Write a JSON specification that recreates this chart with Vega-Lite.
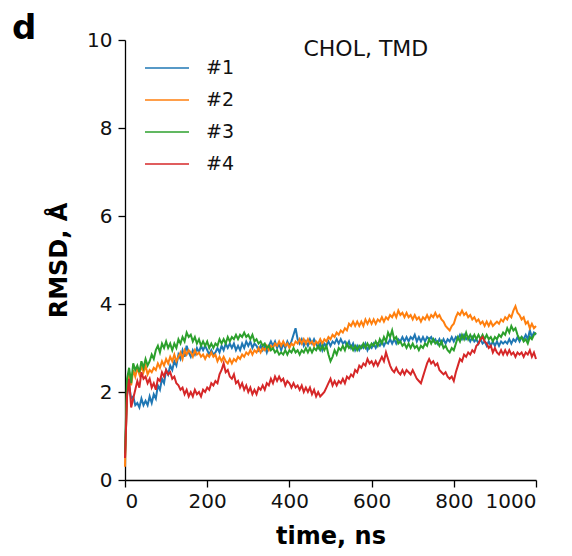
{
  "$schema": "https://vega.github.io/schema/vega-lite/v6.json",
  "autosize": {"type": "none"},
  "padding": {"left": 125, "top": 40, "right": 36, "bottom": 76},
  "width": 411,
  "height": 440,
  "background": "white",
  "config": {
    "font": "DejaVu Sans",
    "view": {"stroke": null},
    "axis": {"grid": false, "domainColor": "#000", "domainWidth": 1.3, "tickColor": "#000", "tickWidth": 1.3, "tickSize": 7, "labelFontSize": 20, "labelColor": "#111", "titleColor": "#000", "titleFontSize": 24, "titleFontWeight": "bold"}
  },
  "title": {"text": "d", "anchor": "start", "frame": "group", "dx": -113, "offset": -16, "fontSize": 34, "fontWeight": "bold", "color": "#000"},
  "datasets": {
    "rmsd": [
{"t":0,"#1":0.5,"#2":0.3,"#3":0.6,"#4":0.5},
{"t":5,"#1":1.95,"#2":2.05,"#3":2.3,"#4":1.9},
{"t":10,"#1":2.15,"#2":2.45,"#3":2.55,"#4":2.3},
{"t":15,"#1":1.85,"#2":2.15,"#3":2.2,"#4":1.65},
{"t":20,"#1":1.9,"#2":2.5,"#3":2.65,"#4":1.85},
{"t":25,"#1":1.7,"#2":2.35,"#3":2.5,"#4":2.05},
{"t":30,"#1":1.75,"#2":2.55,"#3":2.6,"#4":2.25},
{"t":35,"#1":1.65,"#2":2.4,"#3":2.45,"#4":2.1},
{"t":40,"#1":1.85,"#2":2.6,"#3":2.7,"#4":2.45},
{"t":45,"#1":1.7,"#2":2.45,"#3":2.55,"#4":2.3},
{"t":50,"#1":1.8,"#2":2.6,"#3":2.75,"#4":2.35},
{"t":55,"#1":1.7,"#2":2.4,"#3":2.6,"#4":2.2},
{"t":60,"#1":1.9,"#2":2.5,"#3":2.7,"#4":2.3},
{"t":65,"#1":1.75,"#2":2.45,"#3":2.85,"#4":2.1},
{"t":70,"#1":1.95,"#2":2.55,"#3":2.75,"#4":2.2},
{"t":75,"#1":1.85,"#2":2.5,"#3":2.95,"#4":2.05},
{"t":80,"#1":2.15,"#2":2.65,"#3":3.05,"#4":2.3},
{"t":85,"#1":2.05,"#2":2.55,"#3":2.9,"#4":2.25},
{"t":90,"#1":2.3,"#2":2.7,"#3":3.1,"#4":2.45},
{"t":95,"#1":2.2,"#2":2.6,"#3":3.0,"#4":2.35},
{"t":100,"#1":2.5,"#2":2.75,"#3":3.15,"#4":2.5},
{"t":105,"#1":2.4,"#2":2.65,"#3":3.0,"#4":2.4},
{"t":110,"#1":2.6,"#2":2.8,"#3":3.1,"#4":2.45},
{"t":115,"#1":2.5,"#2":2.7,"#3":2.95,"#4":2.3},
{"t":120,"#1":2.7,"#2":2.85,"#3":3.1,"#4":2.35},
{"t":125,"#1":2.6,"#2":2.7,"#3":3.0,"#4":2.2},
{"t":130,"#1":2.85,"#2":2.8,"#3":3.2,"#4":2.15},
{"t":135,"#1":2.75,"#2":2.9,"#3":3.1,"#4":2.05},
{"t":140,"#1":2.95,"#2":2.75,"#3":3.25,"#4":2.1},
{"t":145,"#1":2.8,"#2":2.95,"#3":3.15,"#4":1.95},
{"t":150,"#1":3.05,"#2":2.85,"#3":3.35,"#4":2.05},
{"t":155,"#1":2.9,"#2":2.95,"#3":3.25,"#4":1.9},
{"t":160,"#1":2.8,"#2":2.9,"#3":3.3,"#4":2.0},
{"t":165,"#1":2.95,"#2":2.8,"#3":3.15,"#4":1.9},
{"t":170,"#1":2.85,"#2":2.95,"#3":3.25,"#4":2.05},
{"t":175,"#1":3.0,"#2":2.85,"#3":3.1,"#4":1.95},
{"t":180,"#1":2.9,"#2":2.9,"#3":3.2,"#4":2.0},
{"t":185,"#1":3.05,"#2":2.8,"#3":3.05,"#4":1.9},
{"t":190,"#1":2.95,"#2":2.85,"#3":3.15,"#4":2.05},
{"t":195,"#1":3.05,"#2":2.75,"#3":3.05,"#4":2.0},
{"t":200,"#1":2.95,"#2":2.85,"#3":3.15,"#4":2.1},
{"t":205,"#1":2.85,"#2":2.8,"#3":3.0,"#4":2.05},
{"t":210,"#1":2.95,"#2":2.9,"#3":3.1,"#4":2.2},
{"t":215,"#1":2.85,"#2":2.8,"#3":3.0,"#4":2.15},
{"t":220,"#1":2.9,"#2":2.85,"#3":3.1,"#4":2.25},
{"t":225,"#1":3.0,"#2":2.7,"#3":3.05,"#4":2.2},
{"t":230,"#1":2.9,"#2":2.8,"#3":3.2,"#4":2.4},
{"t":235,"#1":3.05,"#2":2.7,"#3":3.1,"#4":2.5},
{"t":240,"#1":2.95,"#2":2.8,"#3":3.2,"#4":2.65},
{"t":245,"#1":3.1,"#2":2.7,"#3":3.1,"#4":2.45},
{"t":250,"#1":3.0,"#2":2.65,"#3":3.25,"#4":2.5},
{"t":255,"#1":3.1,"#2":2.75,"#3":3.15,"#4":2.35},
{"t":260,"#1":3.0,"#2":2.65,"#3":3.25,"#4":2.3},
{"t":265,"#1":3.1,"#2":2.75,"#3":3.2,"#4":2.4},
{"t":270,"#1":2.95,"#2":2.7,"#3":3.3,"#4":2.2},
{"t":275,"#1":3.05,"#2":2.8,"#3":3.2,"#4":2.25},
{"t":280,"#1":2.95,"#2":2.75,"#3":3.3,"#4":2.1},
{"t":285,"#1":3.1,"#2":2.85,"#3":3.25,"#4":2.2},
{"t":290,"#1":3.0,"#2":2.8,"#3":3.35,"#4":2.05},
{"t":295,"#1":3.15,"#2":2.9,"#3":3.25,"#4":2.15},
{"t":300,"#1":3.05,"#2":2.85,"#3":3.3,"#4":2.0},
{"t":305,"#1":3.15,"#2":2.95,"#3":3.2,"#4":2.1},
{"t":310,"#1":3.0,"#2":2.85,"#3":3.3,"#4":1.95},
{"t":315,"#1":3.1,"#2":2.95,"#3":3.15,"#4":2.05},
{"t":320,"#1":3.05,"#2":2.9,"#3":3.2,"#4":1.95},
{"t":325,"#1":2.95,"#2":3.0,"#3":3.1,"#4":2.1},
{"t":330,"#1":3.05,"#2":2.9,"#3":3.15,"#4":2.05},
{"t":335,"#1":2.95,"#2":3.0,"#3":3.05,"#4":2.15},
{"t":340,"#1":3.05,"#2":2.95,"#3":3.1,"#4":2.05},
{"t":345,"#1":2.9,"#2":3.05,"#3":3.0,"#4":2.2},
{"t":350,"#1":3.05,"#2":2.95,"#3":3.05,"#4":2.15},
{"t":355,"#1":3.15,"#2":3.05,"#3":2.95,"#4":2.3},
{"t":360,"#1":3.05,"#2":3.0,"#3":3.0,"#4":2.2},
{"t":365,"#1":3.15,"#2":3.1,"#3":2.9,"#4":2.35},
{"t":370,"#1":3.0,"#2":3.05,"#3":2.95,"#4":2.25},
{"t":375,"#1":3.1,"#2":3.15,"#3":2.85,"#4":2.35},
{"t":380,"#1":2.95,"#2":3.05,"#3":2.9,"#4":2.25},
{"t":385,"#1":3.1,"#2":3.15,"#3":2.85,"#4":2.3},
{"t":390,"#1":3.0,"#2":3.05,"#3":2.95,"#4":2.15},
{"t":395,"#1":3.15,"#2":3.1,"#3":2.85,"#4":2.25},
{"t":400,"#1":3.05,"#2":3.0,"#3":2.95,"#4":2.2},
{"t":405,"#1":3.15,"#2":3.1,"#3":2.9,"#4":2.1},
{"t":410,"#1":3.3,"#2":3.05,"#3":3.0,"#4":2.2},
{"t":415,"#1":3.45,"#2":3.15,"#3":2.9,"#4":2.1},
{"t":420,"#1":3.2,"#2":3.1,"#3":2.95,"#4":2.15},
{"t":425,"#1":3.1,"#2":3.2,"#3":2.85,"#4":2.05},
{"t":430,"#1":3.2,"#2":3.1,"#3":2.95,"#4":2.15},
{"t":435,"#1":3.05,"#2":3.2,"#3":2.9,"#4":2.0},
{"t":440,"#1":3.15,"#2":3.1,"#3":3.0,"#4":2.1},
{"t":445,"#1":3.05,"#2":3.2,"#3":2.9,"#4":2.0},
{"t":450,"#1":3.2,"#2":3.1,"#3":3.0,"#4":2.1},
{"t":455,"#1":3.1,"#2":3.15,"#3":2.9,"#4":1.95},
{"t":460,"#1":3.2,"#2":3.05,"#3":3.0,"#4":2.05},
{"t":465,"#1":3.1,"#2":3.15,"#3":2.95,"#4":1.9},
{"t":470,"#1":3.0,"#2":3.1,"#3":3.05,"#4":2.0},
{"t":475,"#1":3.1,"#2":3.2,"#3":2.95,"#4":1.9},
{"t":480,"#1":2.95,"#2":3.1,"#3":3.05,"#4":1.95},
{"t":485,"#1":3.1,"#2":3.2,"#3":2.95,"#4":2.0},
{"t":490,"#1":3.05,"#2":3.15,"#3":3.05,"#4":2.1},
{"t":495,"#1":3.15,"#2":3.25,"#3":2.85,"#4":2.2},
{"t":500,"#1":3.05,"#2":3.2,"#3":2.7,"#4":2.3},
{"t":505,"#1":3.15,"#2":3.3,"#3":2.8,"#4":2.15},
{"t":510,"#1":3.1,"#2":3.25,"#3":2.95,"#4":2.25},
{"t":515,"#1":3.2,"#2":3.35,"#3":2.85,"#4":2.15},
{"t":520,"#1":3.1,"#2":3.3,"#3":3.0,"#4":2.25},
{"t":525,"#1":3.2,"#2":3.4,"#3":2.95,"#4":2.2},
{"t":530,"#1":3.1,"#2":3.35,"#3":3.05,"#4":2.3},
{"t":535,"#1":3.15,"#2":3.45,"#3":2.95,"#4":2.2},
{"t":540,"#1":3.05,"#2":3.4,"#3":3.1,"#4":2.35},
{"t":545,"#1":3.15,"#2":3.55,"#3":3.0,"#4":2.3},
{"t":550,"#1":3.0,"#2":3.5,"#3":3.05,"#4":2.4},
{"t":555,"#1":3.1,"#2":3.6,"#3":2.95,"#4":2.35},
{"t":560,"#1":2.95,"#2":3.5,"#3":3.05,"#4":2.5},
{"t":565,"#1":3.05,"#2":3.6,"#3":2.95,"#4":2.45},
{"t":570,"#1":2.95,"#2":3.5,"#3":3.05,"#4":2.6},
{"t":575,"#1":3.05,"#2":3.6,"#3":3.0,"#4":2.55},
{"t":580,"#1":3.0,"#2":3.5,"#3":3.1,"#4":2.65},
{"t":585,"#1":3.1,"#2":3.65,"#3":3.0,"#4":2.6},
{"t":590,"#1":2.95,"#2":3.55,"#3":3.1,"#4":2.75},
{"t":595,"#1":3.05,"#2":3.65,"#3":3.0,"#4":2.65},
{"t":600,"#1":3.0,"#2":3.55,"#3":3.1,"#4":2.7},
{"t":605,"#1":3.1,"#2":3.65,"#3":3.05,"#4":2.6},
{"t":610,"#1":3.0,"#2":3.55,"#3":3.15,"#4":2.7},
{"t":615,"#1":3.1,"#2":3.65,"#3":3.05,"#4":2.6},
{"t":620,"#1":3.05,"#2":3.6,"#3":3.2,"#4":2.7},
{"t":625,"#1":3.15,"#2":3.7,"#3":3.1,"#4":2.8},
{"t":630,"#1":3.05,"#2":3.6,"#3":3.25,"#4":2.7},
{"t":635,"#1":3.15,"#2":3.7,"#3":3.15,"#4":2.9},
{"t":640,"#1":3.1,"#2":3.65,"#3":3.35,"#4":2.75},
{"t":645,"#1":3.2,"#2":3.75,"#3":3.25,"#4":2.6},
{"t":650,"#1":3.1,"#2":3.7,"#3":3.4,"#4":2.5},
{"t":655,"#1":3.2,"#2":3.8,"#3":3.2,"#4":2.45},
{"t":660,"#1":3.1,"#2":3.7,"#3":3.25,"#4":2.55},
{"t":665,"#1":3.2,"#2":3.85,"#3":3.1,"#4":2.45},
{"t":670,"#1":3.15,"#2":3.75,"#3":3.15,"#4":2.4},
{"t":675,"#1":3.25,"#2":3.8,"#3":3.05,"#4":2.5},
{"t":680,"#1":3.15,"#2":3.7,"#3":3.1,"#4":2.4},
{"t":685,"#1":3.25,"#2":3.8,"#3":3.0,"#4":2.5},
{"t":690,"#1":3.15,"#2":3.7,"#3":3.1,"#4":2.45},
{"t":695,"#1":3.25,"#2":3.75,"#3":3.0,"#4":2.4},
{"t":700,"#1":3.2,"#2":3.65,"#3":3.1,"#4":2.5},
{"t":705,"#1":3.3,"#2":3.75,"#3":3.0,"#4":2.4},
{"t":710,"#1":3.15,"#2":3.65,"#3":3.05,"#4":2.3},
{"t":715,"#1":3.25,"#2":3.7,"#3":2.95,"#4":2.25},
{"t":720,"#1":3.15,"#2":3.6,"#3":3.05,"#4":2.2},
{"t":725,"#1":3.25,"#2":3.7,"#3":3.0,"#4":2.35},
{"t":730,"#1":3.15,"#2":3.65,"#3":3.1,"#4":2.5},
{"t":735,"#1":3.25,"#2":3.75,"#3":3.05,"#4":2.65},
{"t":740,"#1":3.2,"#2":3.65,"#3":3.2,"#4":2.75},
{"t":745,"#1":3.25,"#2":3.75,"#3":3.1,"#4":2.65},
{"t":750,"#1":3.15,"#2":3.7,"#3":3.2,"#4":2.7},
{"t":755,"#1":3.2,"#2":3.8,"#3":3.1,"#4":2.6},
{"t":760,"#1":3.1,"#2":3.7,"#3":3.15,"#4":2.65},
{"t":765,"#1":3.2,"#2":3.75,"#3":3.05,"#4":2.5},
{"t":770,"#1":3.1,"#2":3.65,"#3":3.15,"#4":2.45},
{"t":775,"#1":3.2,"#2":3.6,"#3":3.0,"#4":2.4},
{"t":780,"#1":3.1,"#2":3.5,"#3":3.05,"#4":2.45},
{"t":785,"#1":3.2,"#2":3.45,"#3":2.95,"#4":2.35},
{"t":790,"#1":3.15,"#2":3.4,"#3":2.9,"#4":2.3},
{"t":795,"#1":3.25,"#2":3.5,"#3":3.0,"#4":2.35},
{"t":800,"#1":3.15,"#2":3.55,"#3":2.95,"#4":2.25},
{"t":805,"#1":3.25,"#2":3.7,"#3":3.1,"#4":2.45},
{"t":810,"#1":3.2,"#2":3.8,"#3":3.25,"#4":2.6},
{"t":815,"#1":3.3,"#2":3.75,"#3":3.15,"#4":2.75},
{"t":820,"#1":3.2,"#2":3.85,"#3":3.3,"#4":2.7},
{"t":825,"#1":3.3,"#2":3.75,"#3":3.2,"#4":2.85},
{"t":830,"#1":3.2,"#2":3.8,"#3":3.35,"#4":2.8},
{"t":835,"#1":3.25,"#2":3.7,"#3":3.2,"#4":2.9},
{"t":840,"#1":3.15,"#2":3.75,"#3":3.3,"#4":2.85},
{"t":845,"#1":3.25,"#2":3.65,"#3":3.2,"#4":2.95},
{"t":850,"#1":3.15,"#2":3.7,"#3":3.3,"#4":2.9},
{"t":855,"#1":3.2,"#2":3.6,"#3":3.2,"#4":3.05},
{"t":860,"#1":3.1,"#2":3.65,"#3":3.3,"#4":3.1},
{"t":865,"#1":3.2,"#2":3.55,"#3":3.2,"#4":3.2},
{"t":870,"#1":3.1,"#2":3.6,"#3":3.3,"#4":3.25},
{"t":875,"#1":3.15,"#2":3.5,"#3":3.2,"#4":3.15},
{"t":880,"#1":3.05,"#2":3.6,"#3":3.3,"#4":3.1},
{"t":885,"#1":3.15,"#2":3.5,"#3":3.2,"#4":3.0},
{"t":890,"#1":3.05,"#2":3.6,"#3":3.25,"#4":3.05},
{"t":895,"#1":3.15,"#2":3.5,"#3":3.15,"#4":2.9},
{"t":900,"#1":3.05,"#2":3.55,"#3":3.25,"#4":3.0},
{"t":905,"#1":3.15,"#2":3.6,"#3":3.2,"#4":2.9},
{"t":910,"#1":3.05,"#2":3.55,"#3":3.3,"#4":2.85},
{"t":915,"#1":3.15,"#2":3.65,"#3":3.25,"#4":2.95},
{"t":920,"#1":3.1,"#2":3.6,"#3":3.35,"#4":2.85},
{"t":925,"#1":3.15,"#2":3.7,"#3":3.3,"#4":2.95},
{"t":930,"#1":3.1,"#2":3.65,"#3":3.45,"#4":2.85},
{"t":935,"#1":3.2,"#2":3.75,"#3":3.35,"#4":2.95},
{"t":940,"#1":3.1,"#2":3.7,"#3":3.5,"#4":2.85},
{"t":945,"#1":3.2,"#2":3.85,"#3":3.4,"#4":2.9},
{"t":950,"#1":3.15,"#2":3.95,"#3":3.45,"#4":2.8},
{"t":955,"#1":3.25,"#2":3.8,"#3":3.3,"#4":2.9},
{"t":960,"#1":3.15,"#2":3.75,"#3":3.2,"#4":2.85},
{"t":965,"#1":3.25,"#2":3.65,"#3":3.25,"#4":2.9},
{"t":970,"#1":3.2,"#2":3.7,"#3":3.15,"#4":2.8},
{"t":975,"#1":3.3,"#2":3.55,"#3":3.2,"#4":2.9},
{"t":980,"#1":3.2,"#2":3.6,"#3":3.1,"#4":2.85},
{"t":985,"#1":3.4,"#2":3.45,"#3":3.25,"#4":2.95},
{"t":990,"#1":3.25,"#2":3.55,"#3":3.2,"#4":2.8},
{"t":995,"#1":3.35,"#2":3.45,"#3":3.3,"#4":2.9},
{"t":1000,"#1":3.3,"#2":3.5,"#3":3.35,"#4":2.75}
    ],
    "note": [{"t": 586, "v": 9.8, "label": "CHOL, TMD"}]
  },
  "layer": [
    {
      "data": {"name": "rmsd"},
      "transform": [{"fold": ["#1", "#2", "#3", "#4"], "as": ["run", "rmsd"]}],
      "mark": {"type": "line", "strokeWidth": 2},
      "encoding": {
        "x": {"field": "t", "type": "quantitative", "scale": {"domain": [0, 1000], "nice": false}, "axis": {"values": [0, 200, 400, 600, 800, 1000], "format": "d", "title": "time, ns", "labelPadding": 4, "titlePadding": 13}},
        "y": {"field": "rmsd", "type": "quantitative", "scale": {"domain": [0, 10], "nice": false}, "axis": {"values": [0, 2, 4, 6, 8, 10], "format": "d", "title": "RMSD, Å", "labelPadding": 6, "titlePadding": 15}},
        "color": {"field": "run", "type": "nominal", "scale": {"domain": ["#1", "#2", "#3", "#4"], "range": ["#1f77b4", "#ff7f0e", "#2ca02c", "#d62728"]},
          "legend": {"title": null, "orient": "none", "legendX": 25, "legendY": 11, "padding": 0, "symbolType": "M-1.375,0H1.375", "symbolSize": 1024, "symbolStrokeWidth": 1.5, "rowPadding": 5, "labelFontSize": 19, "labelColor": "#111", "labelOffset": 22}}
      }
    },
    {
      "data": {"name": "note"},
      "mark": {"type": "text", "fontSize": 22, "baseline": "middle", "align": "center", "color": "#111"},
      "encoding": {
        "x": {"field": "t", "type": "quantitative"},
        "y": {"field": "v", "type": "quantitative"},
        "text": {"field": "label"}
      }
    }
  ]
}
